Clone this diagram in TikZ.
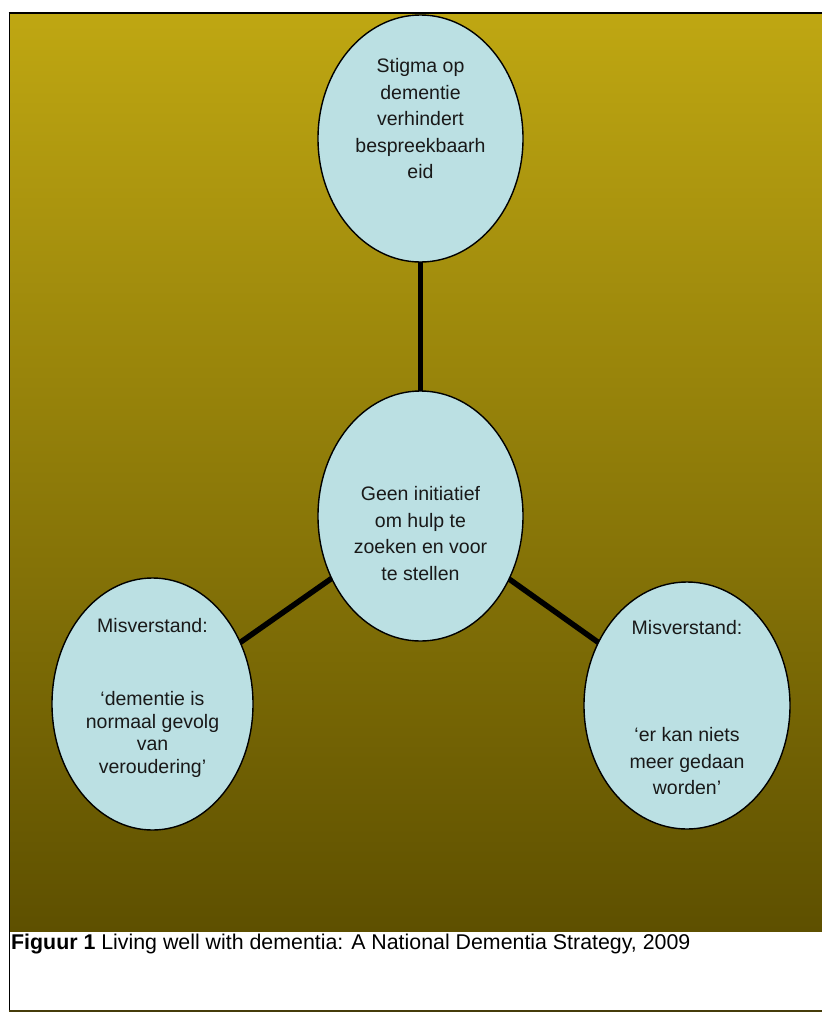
\documentclass[tikz,border=0pt]{standalone}
\usepackage{fontspec}
\setmainfont{Liberation Sans}
\usetikzlibrary{shapes.geometric,backgrounds}
\definecolor{goldtop}{RGB}{191,167,18}
\definecolor{goldbot}{RGB}{94,80,0}
\definecolor{bubble}{RGB}{187,224,227}
\definecolor{frameolive}{RGB}{70,60,10}
\tikzset{
  bub/.style={ellipse, draw=black, line width=1.4pt, fill=bubble, inner sep=0pt},
  txt/.style={align=center, inner sep=0pt, text=black!90, font=\fontsize{19.5bp}{26.5bp}\selectfont},
  conn/.style={draw=black, line width=5.5pt},
}
\begin{document}
\begin{tikzpicture}[x=1bp,y=-1bp]
\useasboundingbox (0,0) rectangle (822,1012);
\begin{scope}[on background layer]
  \fill[white] (-5,-5) rectangle (830,1020);
  \shade[top color=goldtop, bottom color=goldbot] (9,13) rectangle (830,931);
\end{scope}
% ellipses
\node[bub, minimum width=205bp, minimum height=247bp] (T) at (420.5,138.5) {};
\node[bub, minimum width=205bp, minimum height=250bp] (C) at (420.5,516) {};
\node[bub, minimum width=201bp, minimum height=252bp] (L) at (152.5,704) {};
\node[bub, minimum width=206bp, minimum height=247bp] (R) at (687,705.5) {};
% connectors
\begin{scope}[on background layer]
  \draw[conn] (C.center) -- (T.center);
  \draw[conn] (C.center) -- (L.center);
  \draw[conn] (C.center) -- (R.center);
\end{scope}
% texts
\node[txt] (Tt) at (420.5,119) {Stigma op\\dementie\\verhindert\\bespreekbaarh\\eid};
\node[txt] (Ct) at (420.5,533.5) {Geen initiatief\\om hulp te\\zoeken en voor\\te stellen};
\node[txt, font=\fontsize{19.5bp}{22.5bp}\selectfont] (Lt) at (152.5,697.5) {Misverstand:\\[51bp]‘dementie is\\normaal gevolg\\van\\veroudering’};
\begin{scope}
  \clip (580,580) rectangle (800,793);
  \node[txt] (Rt) at (687,708) {Misverstand:\\[80.5bp]‘er kan niets\\meer gedaan\\worden’};
\end{scope}
% frame
\draw[black, line width=2pt] (9.5,12.3) -- (9.5,1011.5);
\draw[black, line width=2pt] (8.5,13.3) -- (830,13.3);
\draw[frameolive, line width=2pt] (8.5,1010.8) -- (830,1010.8);
% caption
\node[anchor=base west, inner sep=0pt, font=\fontsize{21.35bp}{25bp}\selectfont] (cap) at (11,949) {\textbf{Figuur 1} Living well with dementia: A National Dementia Strategy, 2009};
\end{tikzpicture}
\end{document}
